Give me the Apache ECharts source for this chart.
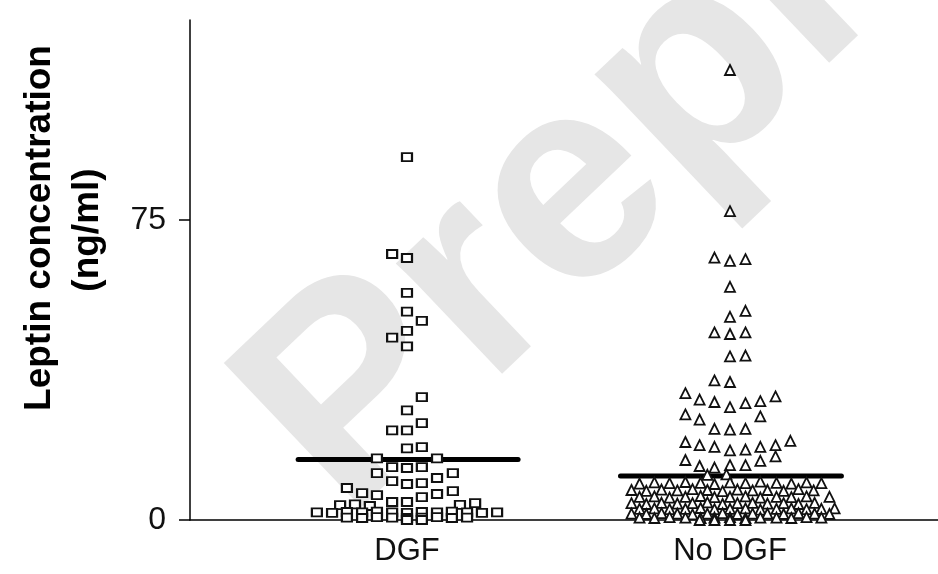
<!DOCTYPE html>
<html>
<head>
<meta charset="utf-8">
<script src="https://cdn.jsdelivr.net/npm/echarts@6/dist/echarts.min.js"></script>
<style>
html,body{margin:0;padding:0;background:#fff;}
#chart{width:938px;height:574px;}
</style>
</head>
<body>
<div id="chart"></div>
<script>
// ---- data ----
const categories = ['DGF', 'No DGF'];
const yTicks = [0, 75];
const yTitle = ['Leptin concentration', '(ng/ml)'];

// DGF group: x = horizontal swarm position (group centre 1), y = leptin ng/ml
const dgfX = [1.000,0.954,1.000,1.000,1.000,1.046,1.000,0.954,1.000,
  1.046,1.000,0.954,1.000,1.046,1.000,1.046,
  0.907,1.093,0.954,1.000,1.046,0.907,1.142,
  0.954,1.000,1.046,1.093,0.814,0.861,0.907,1.142,1.093,1.046,0.954,1.000,
  0.793,0.839,0.885,1.164,1.211,
  0.721,0.768,0.814,0.861,0.907,0.954,1.000,1.046,1.093,1.139,1.186,1.232,1.279,
  0.814,0.861,0.907,0.954,1.000,1.046,1.093,1.139,1.186,
  1.000,1.046];
const dgfY = [90.7,66.5,65.5,56.8,52.1,49.8,47.3,45.6,43.4,
  30.7,27.4,22.4,22.4,24.2,17.9,18.2,
  15.4,15.4,13.2,13.0,13.2,11.7,11.7,
  9.7,9.0,9.2,10.5,8.0,6.7,6.2,7.2,6.5,5.7,4.5,4.5,
  3.7,3.9,3.5,3.8,4.2,
  1.9,1.8,2.0,1.9,2.1,1.9,1.8,2.0,1.9,2.1,1.9,1.8,1.9,
  0.6,0.5,0.7,0.6,0.5,0.6,0.7,0.5,0.6,
  0.0,0.0];

// No DGF group: x = horizontal swarm position (group centre 2), y = leptin ng/ml
const noDgfX = [2.000,2.000,1.952,2.000,2.048,2.000,2.000,2.048,1.952,2.000,2.048,2.000,2.048,1.952,2.000,
  1.862,1.906,1.952,2.000,2.048,2.094,2.141,
  1.862,1.906,1.952,2.000,2.048,2.094,
  1.862,1.906,1.952,2.000,2.048,2.094,2.141,2.187,
  1.862,1.906,1.952,2.000,2.048,2.094,2.141,
  1.930,1.989,
  1.720,1.766,1.813,1.862,1.909,1.952,2.000,2.048,2.094,2.144,2.190,2.237,2.283,
  1.695,1.741,1.788,1.837,1.884,1.930,1.977,2.023,2.070,2.116,2.166,2.212,2.259,
  1.720,1.766,1.813,1.862,1.909,1.952,2.000,2.048,2.094,2.144,2.190,2.237,2.308,
  1.695,1.741,1.788,1.837,1.884,1.930,1.977,2.023,2.070,2.116,2.166,2.212,2.262,
  1.720,1.766,1.813,1.862,1.909,1.952,2.000,2.048,2.094,2.144,2.190,2.237,2.283,2.324,
  1.695,1.741,1.788,1.837,1.884,1.930,1.977,2.023,2.070,2.116,2.166,2.212,2.262,2.308,
  1.720,1.766,1.813,1.862,1.909,1.952,2.000,2.048,2.094,2.144,2.190,2.237,2.283,
  1.906,1.952,2.000,2.048];
const noDgfY = [112.5,77.2,65.6,64.8,65.2,58.3,50.8,52.3,46.9,46.5,46.9,40.9,41.1,34.9,34.5,
  31.7,30.1,29.5,28.2,29.2,29.7,30.9,
  26.4,25.1,22.8,22.6,22.8,25.9,
  19.5,18.7,18.3,17.4,17.6,18.3,18.7,19.8,
  15.0,13.5,13.1,13.7,13.7,14.8,15.9,
  11.3,11.4,
  9.1,9.4,9.2,9.5,9.3,9.0,9.4,9.2,9.6,9.3,9.1,9.4,9.2,
  7.5,7.3,7.6,7.4,7.7,7.5,7.2,7.6,7.4,7.5,7.3,7.7,7.4,
  5.8,5.9,5.6,5.8,6.0,5.7,5.8,5.9,5.6,5.8,5.7,5.9,5.8,
  4.2,4.0,4.3,4.1,4.2,4.4,4.0,4.2,4.3,4.1,4.2,4.0,4.3,
  2.8,2.9,2.7,2.8,3.0,2.7,2.8,2.9,2.6,2.8,2.9,2.7,2.8,2.9,
  1.6,1.5,1.7,1.6,1.4,1.6,1.7,1.5,1.6,1.6,1.5,1.7,1.6,1.5,
  0.6,0.5,0.7,0.6,0.5,0.6,0.7,0.5,0.6,0.6,0.5,0.7,0.6,
  0.0,0.0,0.0,0.0];

// central (mean) lines: [x start, x end, value]
const dgfMeanLine = [0.663, 1.344, 15.1];
const noDgfMeanLine = [1.661, 2.345, 11.0];

// ---- chart ----
const FONT = 'Liberation Sans, Arial, sans-serif';
const zip = (xs, ys) => xs.map((x, i) => [x, ys[i]]);
const chart = echarts.init(document.getElementById('chart'), null, {renderer: 'canvas'});
chart.setOption({
  animation: false,
  backgroundColor: '#ffffff',
  grid: {left: 190, right: 0, top: 20, bottom: 54},
  xAxis: {
    type: 'value', min: 0.3282, max: 2.644,
    axisLine: {show: true, onZero: false, lineStyle: {color: '#000', width: 1.5}},
    axisTick: {show: false},
    splitLine: {show: false},
    axisLabel: {
      customValues: [1, 2],
      formatter: v => categories[Math.round(v) - 1],
      fontSize: 31, color: '#111', fontFamily: FONT, margin: 16
    }
  },
  yAxis: {
    type: 'value', min: 0, max: 125,
    axisLine: {show: true, lineStyle: {color: '#000', width: 1.5}},
    axisTick: {show: true, customValues: yTicks, length: 11, lineStyle: {color: '#000', width: 1.5}},
    splitLine: {show: false},
    axisLabel: {customValues: yTicks, fontSize: 32, color: '#111', fontFamily: FONT, margin: 24}
  },
  graphic: [
    {type: 'text', z: -10, x: 392, y: 568, rotation: 0.76,
      style: {text: 'Preprint', font: 'bold 290px ' + FONT, fill: '#e6e6e6', textAlign: 'left', textVerticalAlign: 'bottom'}},
    {type: 'text', x: 40, y: 228, rotation: Math.PI / 2,
      style: {text: yTitle[0], font: 'bold 37px ' + FONT, fill: '#000', textAlign: 'center', textVerticalAlign: 'middle'}},
    {type: 'text', x: 88, y: 230, rotation: Math.PI / 2,
      style: {text: yTitle[1], font: 'bold 37px ' + FONT, fill: '#000', textAlign: 'center', textVerticalAlign: 'middle'}}
  ],
  series: [
    {type: 'line', z: 2, symbol: 'none', silent: true,
      lineStyle: {color: '#000', width: 5, cap: 'round'},
      data: [[dgfMeanLine[0], dgfMeanLine[2]], [dgfMeanLine[1], dgfMeanLine[2]]]},
    {type: 'line', z: 2, symbol: 'none', silent: true,
      lineStyle: {color: '#000', width: 5, cap: 'round'},
      data: [[noDgfMeanLine[0], noDgfMeanLine[2]], [noDgfMeanLine[1], noDgfMeanLine[2]]]},
    {name: categories[0], type: 'scatter', z: 3, symbol: 'rect', symbolSize: [10, 8],
      itemStyle: {color: '#fff', borderColor: '#111', borderWidth: 2, opacity: 1},
      data: zip(dgfX, dgfY)},
    {name: categories[1], type: 'scatter', z: 3, symbol: 'triangle', symbolSize: [10, 10],
      itemStyle: {color: '#fff', borderColor: '#111', borderWidth: 1.8, opacity: 1},
      data: zip(noDgfX, noDgfY)}
  ]
});
</script>
</body>
</html>
